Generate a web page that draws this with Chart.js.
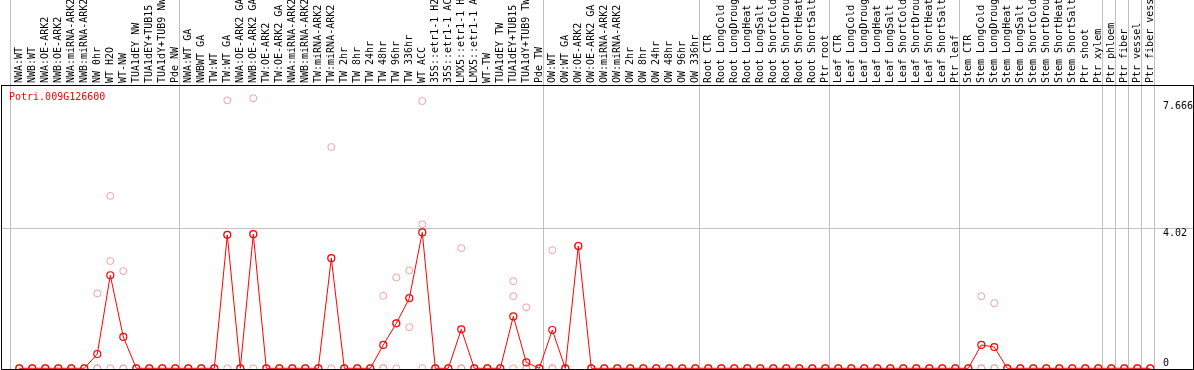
<!DOCTYPE html>
<html><head><meta charset="utf-8">
<script src="https://cdn.jsdelivr.net/npm/chart.js@4"></script>
<style>
html,body{margin:0;padding:0;background:#fff;}
#wrap{position:relative;width:1194px;height:370px;overflow:hidden;}
#title{position:absolute;left:9px;top:91px;font-family:"DejaVu Sans Mono",monospace;font-size:10px;line-height:12px;color:#ff0000;white-space:nowrap;}
</style></head><body>
<div id="wrap"><canvas id="c" width="1194" height="370"></canvas><div id="title">Potri.009G126600</div></div>
<script>
const categories = [
  "NWA:WT","NWB:WT","NWA:OE-ARK2","NWB:OE-ARK2","NWA:miRNA-ARK2","NWB:miRNA-ARK2","NW 0hr","WT H2O","WT-NW","TUA1dEY NW","TUA1dEY+TUB15 NW","TUA1dY+TUB9 NW","Pde NW",
  "NWA:WT GA","NWBWT GA","TW:WT","TW:WT GA","NWA:OE-ARK2 GA","NWB:OE-ARK2 GA","TW:OE-ARK2","TW:OE-ARK2 GA","NWA:miRNA-ARK2","NWB:miRNA-ARK2","TW:miRNA-ARK2","TW:miRNA-ARK2","TW 2hr","TW 8hr","TW 24hr","TW 48hr","TW 96hr","TW 336hr","WT ACC","35S::etr1-1 H2O","35S::etr1-1 ACC","LMX5::etr1-1 H2O","LMX5::etr1-1 ACC","WT-TW","TUA1dEY TW","TUA1dEY+TUB15 TW","TUA1dY+TUB9 TW","Pde TW",
  "OW:WT","OW:WT GA","OW:OE-ARK2","OW:OE-ARK2 GA","OW:miRNA-ARK2","OW:miRNA-ARK2","OW 2hr","OW 8hr","OW 24hr","OW 48hr","OW 96hr","OW 336hr",
  "Root CTR","Root LongCold","Root LongDrought","Root LongHeat","Root LongSalt","Root ShortCold","Root ShortDrought","Root ShortHeat","Root ShortSalt","Ptr root",
  "Leaf CTR","Leaf LongCold","Leaf LongDrought","Leaf LongHeat","Leaf LongSalt","Leaf ShortCold","Leaf ShortDrought","Leaf ShortHeat","Leaf ShortSalt","Ptr leaf",
  "Stem CTR","Stem LongCold","Stem LongDrought","Stem LongHeat","Stem LongSalt","Stem ShortCold","Stem ShortDrought","Stem ShortHeat","Stem ShortSalt","Ptr shoot",
  "Ptr xylem","Ptr phloem","Ptr fiber","Ptr vessel","Ptr fiber vessel"
];

// mean expression (red line)
const meanValues = [
  0,0,0,0,0,0,0.41,2.67,0.90,0,0,0,0,
  0,0,0,3.83,0,3.85,0,0,0,0,0,3.16,0,0,0,0.67,1.29,2.01,3.90,0,0,1.12,0,0,0,1.49,0.17,0,
  1.10,0,3.51,0,0,0,0,0,0,0,0,0,
  0,0,0,0,0,0,0,0,0,0,
  0,0,0,0,0,0,0,0,0,0,
  0,0.67,0.61,0,0,0,0,0,0,0,
  0,0,0,0,0
];

// replicate values (pale circles)
const rep1 = [
  0,0,0,0,0,0,2.15,4.95,2.79,0,0,0,0,
  0,0,0,7.69,0,7.75,0,0,0,0,0,6.35,0,0,0,2.08,2.61,2.81,7.67,0,0,3.45,0,0,0,2.50,1.75,0,
  3.39,0,3.51,0,0,0,0,0,0,0,0,0,
  0,0,0,0,0,0,0,0,0,0,
  0,0,0,0,0,0,0,0,0,0,
  0,2.07,1.87,0,0,0,0,0,0,0,
  0,0,0,0,0
];
const rep2 = [
  0,0,0,0,0,0,0,3.08,0,0,0,0,0,
  0,0,0,3.83,0,3.85,0,0,0,0,0,3.16,0,0,0,0,1.29,1.18,4.13,0,0,0,0,0,0,2.07,0,0,
  0,0,3.51,0,0,0,0,0,0,0,0,0,
  0,0,0,0,0,0,0,0,0,0,
  0,0,0,0,0,0,0,0,0,0,
  0,0,0,0,0,0,0,0,0,0,
  0,0,0,0,0
];
const rep3 = [
  0,0,0,0,0,0,0,0,0,0,0,0,0,
  0,0,0,0,0,0,0,0,0,0,0,0,0,0,0,0,0,2.04,0,0,0,0,0,0,0,0,0,0,
  0,0,3.51,0,0,0,0,0,0,0,0,0,
  0,0,0,0,0,0,0,0,0,0,
  0,0,0,0,0,0,0,0,0,0,
  0,0,0,0,0,0,0,0,0,0,
  0,0,0,0,0
];

// index of first category of each group (separator lines)
const groupStarts = [0,13,41,53,63,73,84,85,86,87,88];
const yTickValues = [0, 4.02, 7.666];
const yTickLabels = ["0", "4.02", "7.666"];

const pts = arr => arr.map((v, i) => ({x: i, y: v}));
const FONT = {family: "DejaVu Sans Mono", size: 10};
const xMin = -1.408, xMax = 90.285, yMin = -0.02, yMax = 8.131;
const tickLabel = v => { const k = yTickValues.indexOf(v); return k >= 0 ? yTickLabels[k] : ""; };
const noPad = s => { s.paddingTop = 0; s.paddingBottom = 0; s.paddingLeft = 0; s.paddingRight = 0; };

const repStyle = {
  xAxisID: "xLabels", yAxisID: "y", showLine: false,
  pointRadius: 3.5, pointBorderWidth: 1, pointBorderColor: "#f0a0a0",
  pointBackgroundColor: "rgba(0,0,0,0)", borderColor: "#f0a0a0"
};

new Chart(document.getElementById("c"), {
  type: "scatter",
  data: {
    datasets: [
      { label: "mean", data: pts(meanValues), xAxisID: "xLabels", yAxisID: "y",
        showLine: true, borderColor: "#ff0000", borderWidth: 1, tension: 0,
        pointRadius: 3.5, pointBorderWidth: 1.2, pointBorderColor: "#ff0000",
        pointBackgroundColor: "rgba(0,0,0,0)" },
      Object.assign({label: "rep1", data: pts(rep1)}, repStyle),
      Object.assign({label: "rep2", data: pts(rep2)}, repStyle),
      Object.assign({label: "rep3", data: pts(rep3)}, repStyle)
    ]
  },
  options: {
    responsive: false, animation: false, devicePixelRatio: 1,
    layout: {autoPadding: false, padding: {left: 1, right: 1, top: 0, bottom: 1}},
    plugins: {legend: {display: false}, tooltip: {enabled: false}, title: {display: false}},
    scales: {
      xLabels: {
        type: "linear", position: "top", min: xMin, max: xMax, bounds: "data", weight: 1,
        afterBuildTicks: s => { s.ticks = categories.map((_, i) => ({value: i})); },
        afterFit: s => { s.height = 85; noPad(s); },
        ticks: {autoSkip: false, maxRotation: 90, minRotation: 90, padding: 2, labelOffset: 12, color: "#000", font: FONT,
          callback: v => categories[v] ?? ""},
        grid: {display: false, drawTicks: false},
        border: {display: false}
      },
      xSep: {
        type: "linear", position: "top", min: xMin, max: xMax, bounds: "data", weight: 0,
        afterBuildTicks: s => { s.ticks = groupStarts.map(k => ({value: k - 0.65})); },
        afterFit: s => { s.height = 0; noPad(s); },
        ticks: {display: false},
        grid: {color: "#c0c0c0", lineWidth: 1, drawTicks: true, tickLength: 85},
        border: {display: true, color: "#000", width: 1}
      },
      xBottom: {
        type: "linear", position: "bottom", min: xMin, max: xMax, bounds: "data",
        afterFit: s => { s.height = 0; noPad(s); },
        ticks: {display: false}, grid: {display: false, drawTicks: false},
        border: {display: true, color: "#000", width: 1}
      },
      y: {
        type: "linear", position: "right", min: yMin, max: yMax, bounds: "data",
        afterBuildTicks: s => { s.ticks = [{value: 4.02}, {value: 7.666}]; },
        afterFit: s => { s.width = 0; noPad(s); },
        ticks: {mirror: true, crossAlign: "far", align: "start", padding: 0, color: "#000", font: FONT, callback: tickLabel},
        grid: {drawTicks: false, lineWidth: 1, color: c => (c.tick && c.tick.value === 4.02) ? "#c0c0c0" : "rgba(0,0,0,0)"},
        border: {display: true, color: "#000", width: 1}
      },
      y0: {
        type: "linear", position: "right", min: yMin, max: yMax, bounds: "data",
        afterBuildTicks: s => { s.ticks = [{value: 0}]; },
        afterFit: s => { s.width = 0; noPad(s); },
        ticks: {mirror: true, crossAlign: "far", align: "end", padding: -24, color: "#000", font: FONT, callback: tickLabel},
        grid: {display: false, drawTicks: false},
        border: {display: false}
      },
      yLeft: {
        type: "linear", position: "left", min: yMin, max: yMax, bounds: "data",
        afterFit: s => { s.width = 0; noPad(s); },
        ticks: {display: false}, grid: {display: false, drawTicks: false},
        border: {display: true, color: "#000", width: 1}
      }
    }
  }
});
</script>
</body></html>
